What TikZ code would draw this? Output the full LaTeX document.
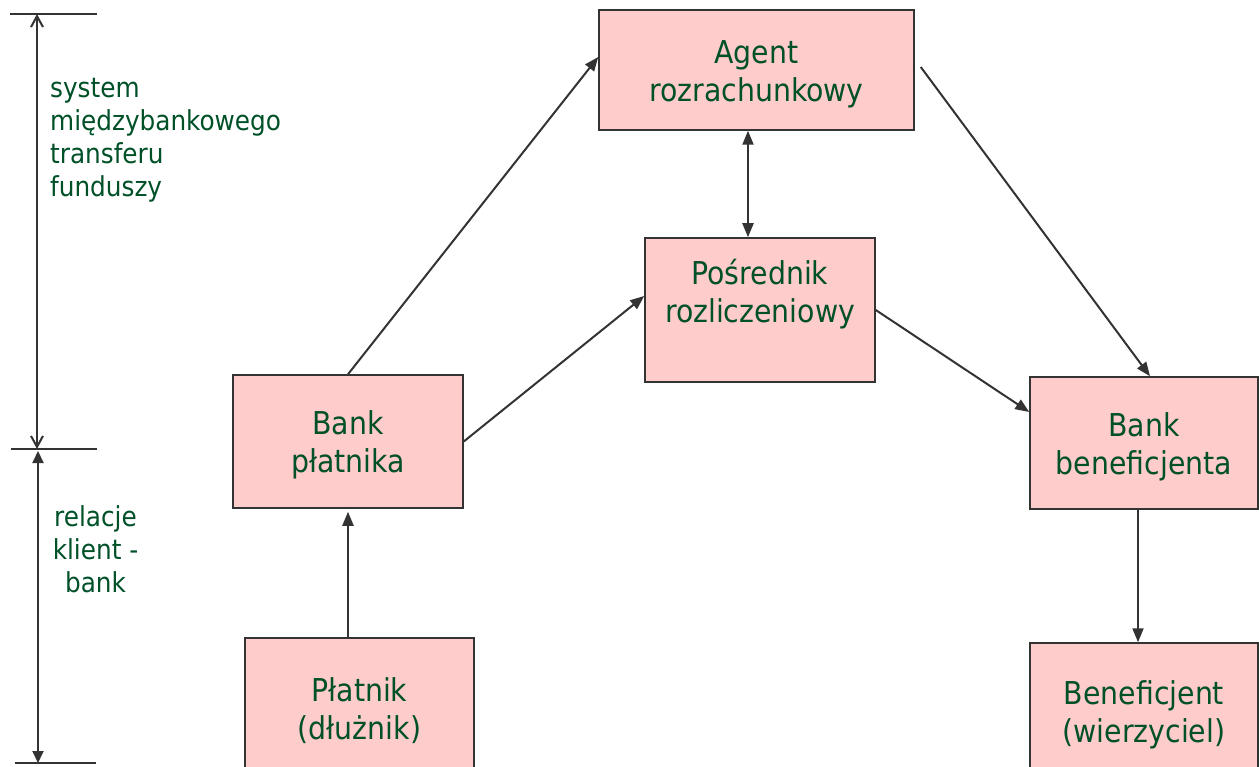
\documentclass[tikz,border=0pt]{standalone}
\usepackage{fontspec}
\setmainfont{DejaVu Sans Condensed}
\usepackage{xcolor}
\usetikzlibrary{arrows.meta,positioning,calc}
\definecolor{boxpink}{RGB}{255,204,204}
\definecolor{textgreen}{RGB}{0,80,40}
\definecolor{linegray}{RGB}{51,51,51}

\tikzset{
    box/.style={draw=linegray, line width=1.5pt, rectangle, fill=boxpink, text=textgreen, align=center,
        font=\fontsize{31.5}{38}\selectfont, inner sep=0pt, text height=69pt},
    flow/.style={draw=linegray, line width=2pt, -{Triangle[length=14pt,width=11pt]}},
    flowboth/.style={draw=linegray, line width=2pt, {Triangle[length=14pt,width=11pt]}-{Triangle[length=14pt,width=11pt]}},
    scaleline/.style={draw=linegray, line width=2pt},
    sidetext/.style={text=textgreen, font=\fontsize{27.5}{33}\selectfont, inner sep=0pt}
}

\begin{document}
\begin{tikzpicture}[x=1pt, y=-1pt]
    \useasboundingbox (0,0) rectangle (1259,767);

    \node[box, minimum width=315pt, minimum height=120pt] (agent) at (756.5,70) {Agent\\rozrachunkowy};
    \node[box, minimum width=230pt, minimum height=144pt, text depth=43pt] (posrednik) at (760,310) {Pośrednik\\rozliczeniowy};
    \node[box, minimum width=230pt, minimum height=133pt] (bankp) at (348,441.5) {Bank\\płatnika};
    \node[box, minimum width=228pt, minimum height=132pt] (bankb) at (1144,443) {Bank\\beneficjenta};
    \node[box, minimum width=229pt, minimum height=138pt] (platnik) at (359.5,707) {Płatnik\\(dłużnik)};
    \node[box, minimum width=228pt, minimum height=136pt] (benef) at (1144,711) {Beneficjent\\(wierzyciel)};

    % left scale
    \coordinate (top1) at (10,14);   \coordinate (top2) at (97,14);
    \coordinate (mid1) at (11,449);  \coordinate (mid2) at (97,449);
    \coordinate (bot1) at (15,763);  \coordinate (bot2) at (96,763);
    \draw[scaleline] (top1) -- (top2);
    \draw[scaleline] (mid1) -- (mid2);
    \draw[scaleline] (bot1) -- (bot2);
    \draw[scaleline, {Straight Barb[length=11pt,width=12pt]}-{Straight Barb[length=11pt,width=12pt]}] (37,14) -- (37,449);
    \draw[scaleline, {Triangle[length=12pt,width=11pt]}-{Triangle[length=12pt,width=11pt]}] (38,451) -- (38,763);

    \node[sidetext, anchor=west, align=left] (interbank) at (50,140) {system\\międzybankowego\\transferu\\funduszy};
    \node[sidetext, align=center] (client) at (95.5,549) {relacje\\klient -\\bank};

    % connectors
    \coordinate (vagent) at (748,0);
    \coordinate (vbankb) at (1138,0);
    \draw[flow] (bankp.north) -- ($(agent.west)+(0,-13)$);
    \draw[flow] (bankp.east) -- ($(posrednik.west)+(0,-14)$);
    \draw[flowboth] (agent.south -| vagent) -- (posrednik.north -| vagent);
    \draw[flow] ($(agent.east)+(6,-3)$) -- ($(bankb.north)+(6,0)$);
    \draw[flow] (posrednik.east) -- ($(bankb.west)+(0,-31)$);
    \draw[flow] (platnik.north -| bankp.south) -- ($(bankp.south)+(0,3)$);
    \draw[flow] (bankb.south -| vbankb) -- (benef.north -| vbankb);
\end{tikzpicture}
\end{document}
